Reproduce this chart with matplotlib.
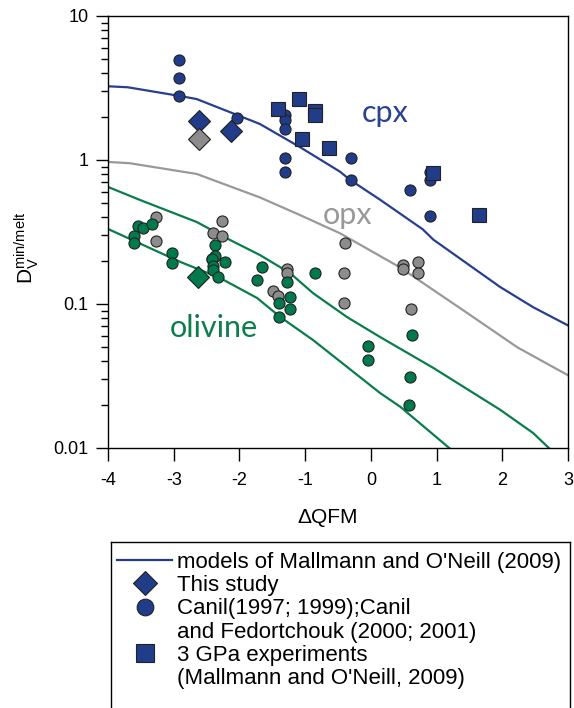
import matplotlib.pyplot as plt
from matplotlib.lines import Line2D
from matplotlib.ticker import LogLocator, NullFormatter

plt.rcParams['font.family'] = ['Liberation Sans', 'DejaVu Sans']

NAVY = '#213C88'
GREY = '#8C8C8C'
GREEN = '#007A4C'

# model curves of Mallmann and O'Neill (2009), D vs dQFM
cpx_x = [-4.0, -3.7, -2.9, -2.65, -1.69, -1.08, -0.47, -0.32, 0.14, 0.79, 0.95, 1.97, 2.47, 3.0]
cpx_d = [3.25, 3.2, 2.78, 2.65, 1.78, 1.23, 0.83, 0.73, 0.53, 0.33, 0.28, 0.131, 0.095, 0.071]

opx_x = [-4.0, -3.67, -2.65, -1.69, -1.08, -0.47, 0.44, 1.46, 2.23, 3.0]
opx_d = [0.97, 0.95, 0.80, 0.55, 0.415, 0.31, 0.18, 0.087, 0.050, 0.032]

ol_hi_x = [-4.0, -3.51, -2.65, -2.14, -1.69, -1.23, -0.88, -0.36, 0.14, 0.95, 1.97, 2.47, 2.76]
ol_hi_d = [0.65, 0.527, 0.371, 0.278, 0.219, 0.164, 0.119, 0.081, 0.059, 0.036, 0.0184, 0.0127, 0.0095]

ol_lo_x = [-4.0, -2.90, -2.30, -1.73, -1.38, -0.88, -0.36, 0.14, 0.45, 1.25]
ol_lo_d = [0.332, 0.196, 0.152, 0.110, 0.0813, 0.0562, 0.0365, 0.0241, 0.0193, 0.0095]

# Canil (1997; 1999); Canil and Fedortchouk (2000; 2001)
canil_cpx_x = [-2.92, -2.92, -2.92, -2.04, -1.31, -1.31, -1.31, -1.31, -1.31,
               -0.30, -0.30, 0.60, 0.90, 0.90, 0.90]
canil_cpx_d = [4.95, 3.7, 2.78, 1.96, 2.05, 1.9, 1.64, 1.03, 0.83,
               1.03, 0.73, 0.62, 0.83, 0.73, 0.41]

canil_opx_x = [-3.27, -3.27, -2.26, -2.40, -2.26, -2.42, -1.49, -1.41, -1.28, -1.28,
               -0.39, -0.41, -0.41, 0.49, 0.49, 0.72, 0.72, 0.61]
canil_opx_d = [0.40, 0.274, 0.377, 0.31, 0.297, 0.205, 0.123, 0.114, 0.175, 0.164,
               0.265, 0.164, 0.102, 0.187, 0.175, 0.196, 0.164, 0.092]

canil_ol_x = [-3.54, -3.47, -3.33, -3.60, -3.60, -3.03, -3.03, -2.37, -2.37, -2.42,
              -2.40, -2.40, -2.22, -2.33, -1.66, -1.73, -1.28, -1.40, -1.23, -1.23,
              -1.40, -0.85, -0.04, -0.04, 0.63, 0.60, 0.58]
canil_ol_d = [0.348, 0.337, 0.36, 0.297, 0.265, 0.226, 0.193, 0.257, 0.215, 0.205,
              0.184, 0.172, 0.196, 0.154, 0.181, 0.147, 0.142, 0.102, 0.112, 0.092,
              0.081, 0.164, 0.051, 0.041, 0.061, 0.031, 0.020]

# 3 GPa experiments (Mallmann and O'Neill, 2009), cpx
gpa_x = [-1.41, -1.09, -0.85, -0.85, -1.05, -0.64, 0.95, 1.65]
gpa_d = [2.26, 2.65, 2.19, 2.05, 1.40, 1.21, 0.81, 0.415]

# this study
study_cpx_x = [-2.61, -2.13]
study_cpx_d = [1.87, 1.59]
study_opx_x = [-2.61]
study_opx_d = [1.40]
study_ol_x = [-2.63]
study_ol_d = [0.154]

x_ticks = [-4, -3, -2, -1, 0, 1, 2, 3]
x_labels = ['-4', '-3', '-2', '-1', '0', '1', '2', '3']
y_ticks = [0.01, 0.1, 1, 10]
y_labels = ['0.01', '0.1', '1', '10']

fig = plt.figure(figsize=(5.74, 7.08), dpi=100)
ax = fig.add_axes([108 / 574, 1 - 448 / 708, 460 / 574, 432 / 708])

ax.plot(cpx_x, cpx_d, color='#263F8E', lw=1.6)
ax.plot(opx_x, opx_d, color='#999999', lw=1.6)
ax.plot(ol_hi_x, ol_hi_d, color='#0A7D4B', lw=1.6)
ax.plot(ol_lo_x, ol_lo_d, color='#0A7D4B', lw=1.6)

circ = dict(ls='none', marker='o', ms=8, mec='#222222', mew=0.8)
ax.plot(canil_opx_x, canil_opx_d, mfc=GREY, **circ)
ax.plot(canil_ol_x, canil_ol_d, mfc=GREEN, **circ)
ax.plot(canil_cpx_x, canil_cpx_d, mfc=NAVY, **circ)
ax.plot(gpa_x, gpa_d, ls='none', marker='s', ms=10, mfc=NAVY, mec='#222222', mew=0.8)

diam = dict(ls='none', marker='D', ms=11, mec='#222222', mew=0.8)
ax.plot(study_cpx_x, study_cpx_d, mfc=NAVY, **diam)
ax.plot(study_opx_x, study_opx_d, mfc=GREY, **diam)
ax.plot(study_ol_x, study_ol_d, mfc=GREEN, **diam)

ax.text(0.22, 2.12, 'cpx', color='#2A4390', fontsize=22, family='Lato', ha='center', va='center')
ax.text(-0.35, 0.415, 'opx', color='#999999', fontsize=22, family='Lato', ha='center', va='center')
ax.text(-2.39, 0.068, 'olivine', color='#0C7D4B', fontsize=22, family='Lato', ha='center', va='center')

ax.set_yscale('log')
ax.set_xlim(-4, 3)
ax.set_ylim(0.01, 10)
ax.set_xticks(x_ticks, labels=x_labels)
ax.set_yticks(y_ticks, labels=y_labels)
ax.yaxis.set_minor_locator(LogLocator(base=10, subs=range(2, 10)))
ax.yaxis.set_minor_formatter(NullFormatter())
ax.tick_params(axis='both', which='major', direction='out', length=9, width=1,
               labelsize=13, pad=5)
ax.tick_params(axis='x', which='major', pad=8.5)
ax.tick_params(axis='y', which='minor', direction='out', length=5, width=1)
for sp in ax.spines.values():
    sp.set_linewidth(1.0)

ax.set_xlabel('\u0394QFM', fontsize=15)
ax.xaxis.set_label_coords(0.478, -0.139)
ax.set_ylabel(r'$\mathregular{D_V^{min/melt}}$', fontsize=15)
ax.yaxis.set_label_coords(-0.145, 0.463)

# legend sits in its own framed box, open at the bottom
lax = fig.add_axes([111 / 574, -0.05, 459 / 574, (708 - 542) / 708 + 0.05])
lax.set_xticks([])
lax.set_yticks([])
lax.spines['bottom'].set_visible(False)
for sp in lax.spines.values():
    sp.set_linewidth(1.0)

handles = [
    Line2D([], [], color=NAVY, lw=1.6),
    Line2D([], [], ls='none', marker='D', ms=12, mfc=NAVY, mec='#222222', mew=0.8),
    Line2D([], [], ls='none', marker='o', ms=12, mfc=NAVY, mec='#222222', mew=0.8),
    Line2D([], [], ls='none'),
    Line2D([], [], ls='none', marker='s', ms=13, mfc=NAVY, mec='#222222', mew=0.8),
    Line2D([], [], ls='none'),
]
labels = [
    "models of Mallmann and O'Neill (2009)",
    'This study',
    'Canil(1997; 1999);Canil',
    'and Fedortchouk (2000; 2001)',
    '3 GPa experiments',
    "(Mallmann and O'Neill, 2009)",
]
lax.legend(handles, labels, loc='upper left', frameon=False, fontsize=16,
           handlelength=2.48, handletextpad=0.23, labelspacing=0.1,
           borderaxespad=0.0, borderpad=0.0,
           bbox_to_anchor=(117 / 574, 1 - 552 / 708), bbox_transform=fig.transFigure)

fig.savefig('out.png', dpi=100)
